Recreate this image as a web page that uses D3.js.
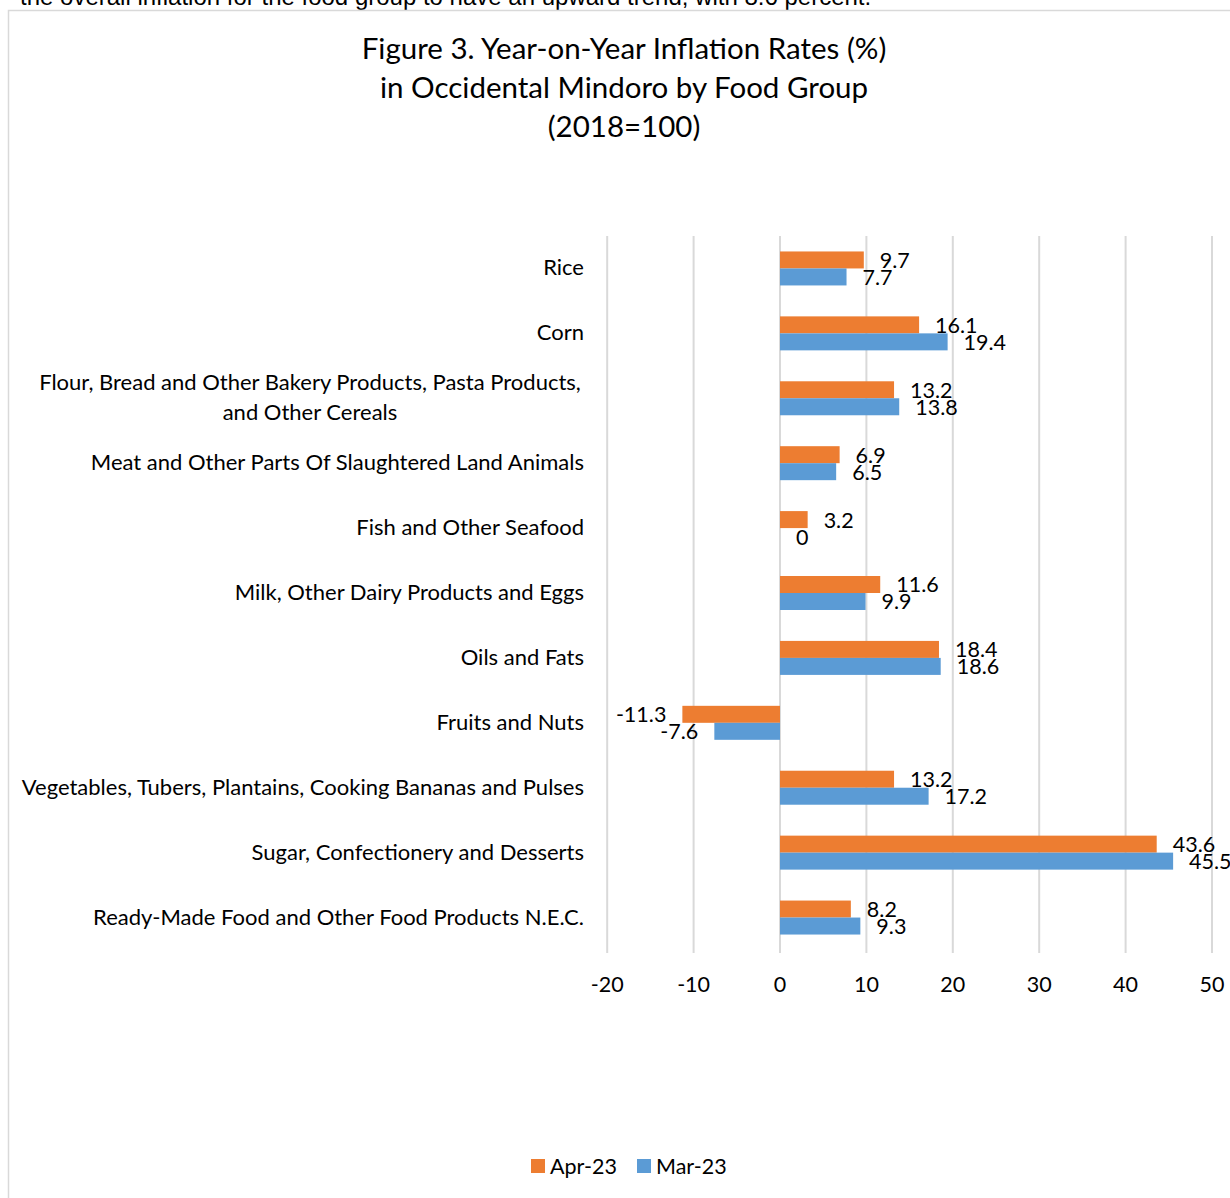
<!DOCTYPE html>
<html>
<head>
<meta charset="utf-8">
<script src="https://cdn.jsdelivr.net/npm/d3@7"></script>
<style>
  body { margin: 0; background: #fff; }
  svg { display: block; }
</style>
</head>
<body>
<svg id="chart"></svg>
<script>
const categories = [
  'Rice',
  'Corn',
  'Flour, Bread and Other Bakery Products, Pasta Products,|and Other Cereals',
  'Meat and Other Parts Of Slaughtered Land Animals',
  'Fish and Other Seafood',
  'Milk, Other Dairy Products and Eggs',
  'Oils and Fats',
  'Fruits and Nuts',
  'Vegetables, Tubers, Plantains, Cooking Bananas and Pulses',
  'Sugar, Confectionery and Desserts',
  'Ready-Made Food and Other Food Products N.E.C.'
]
const apr23 = [9.7, 16.1, 13.2, 6.9, 3.2, 11.6, 18.4, -11.3, 13.2, 43.6, 8.2]
const mar23 = [7.7, 19.4, 13.8, 6.5, 0, 9.9, 18.6, -7.6, 17.2, 45.5, 9.3]
const seriesNames = ['Apr-23', 'Mar-23']
const xTicks = [-20, -10, 0, 10, 20, 30, 40, 50]
const titleLines = ['Figure 3. Year-on-Year Inflation Rates (%)', 'in Occidental Mindoro by Food Group', '(2018=100)']

const width = 1230, height = 1198
const font = 'Lato, "Open Sans", sans-serif'
const colors = { 'Apr-23': '#ED7D31', 'Mar-23': '#5B9BD5' }
const grid = '#d9d9d9'

const svg = d3.select('#chart')
  .attr('width', width)
  .attr('height', height)

// text of the document above the chart, cut off at the top
svg.append('text')
  .attr('x', 20).attr('y', 5)
  .style('font-family', '"Liberation Sans", Arial, sans-serif')
  .style('font-size', '24px')
  .attr('fill', '#000')
  .text('the overall inflation for the food group to have an upward trend, with 8.6 percent.')

// chart frame
svg.append('rect')
  .attr('x', 8.5).attr('y', 10.5)
  .attr('width', 1400).attr('height', 1400)
  .attr('fill', 'none')
  .attr('stroke', grid)
  .attr('stroke-width', 1.5)

// title
svg.append('g').selectAll('text')
  .data(titleLines).enter().append('text')
  .attr('x', 624)
  .attr('y', (d, i) => 59 + i * 39)
  .attr('text-anchor', 'middle')
  .style('font-family', font)
  .style('font-size', '29.5px')
  .attr('fill', '#000')
  .text(d => d)

const plotTop = 236, plotBottom = 950

const x = d3.scaleLinear()
  .domain([-20, 50])
  .range([607.2, 1212])

const y0 = d3.scaleBand()
  .domain(categories)
  .range([plotTop, plotBottom])

const y1 = d3.scaleBand()
  .domain(seriesNames)
  .range([0, y0.bandwidth()])
  .paddingOuter(0.91)

// gridlines
svg.append('g').selectAll('line')
  .data(xTicks).enter().append('line')
  .attr('x1', d => x(d)).attr('x2', d => x(d))
  .attr('y1', plotTop).attr('y2', plotBottom + 3)
  .attr('stroke', grid)
  .attr('stroke-width', 2)

// x tick labels
svg.append('g').selectAll('text')
  .data(xTicks).enter().append('text')
  .attr('x', d => x(d))
  .attr('y', 992)
  .attr('text-anchor', 'middle')
  .style('font-family', font)
  .style('font-size', '21.5px')
  .attr('fill', '#000')
  .text(d => d)

// category labels
const catG = svg.append('g')
categories.forEach(c => {
  const lines = c.split('|')
  const cy = y0(c) + y0.bandwidth() / 2
  const t = catG.append('text')
    .attr('y', cy - (lines.length - 1) * 15 + 7)
    .style('font-family', font)
    .style('font-size', '22px')
    .attr('fill', '#000')
  if (lines.length === 1) {
    t.attr('x', 584).attr('text-anchor', 'end').text(c)
  } else {
    t.attr('text-anchor', 'middle')
    lines.forEach((l, i) => {
      t.append('tspan').attr('x', 310).attr('dy', i === 0 ? 0 : 30).text(l)
    })
  }
})

const rows = categories.map((c, i) => ({ cat: c, vals: [
  { name: 'Apr-23', v: apr23[i] },
  { name: 'Mar-23', v: mar23[i] }
] }))

const rowG = svg.append('g').selectAll('g')
  .data(rows).enter().append('g')
  .attr('transform', d => `translate(0, ${y0(d.cat)})`)

rowG.selectAll('rect')
  .data(d => d.vals).enter().append('rect')
  .attr('x', d => x(Math.min(0, d.v)))
  .attr('y', d => y1(d.name))
  .attr('width', d => Math.abs(x(d.v) - x(0)))
  .attr('height', y1.bandwidth())
  .attr('fill', d => colors[d.name])

rowG.selectAll('text')
  .data(d => d.vals).enter().append('text')
  .attr('x', d => d.v < 0 ? x(d.v) - 16 : x(d.v) + 16)
  .attr('y', d => y1(d.name) + y1.bandwidth() / 2 + 8)
  .attr('text-anchor', d => d.v < 0 ? 'end' : 'start')
  .style('font-family', font)
  .style('font-size', '21.5px')
  .attr('fill', '#000')
  .text(d => d.v)

// legend
const legend = svg.append('g')
const legendX = [531, 637]
seriesNames.forEach((s, i) => {
  legend.append('rect')
    .attr('x', legendX[i]).attr('y', 1159)
    .attr('width', 14).attr('height', 14)
    .attr('fill', colors[s])
  legend.append('text')
    .attr('x', legendX[i] + 19).attr('y', 1174)
    .style('font-family', font)
    .style('font-size', '21.5px')
    .attr('fill', '#000')
    .text(s)
})
</script>
</body>
</html>
